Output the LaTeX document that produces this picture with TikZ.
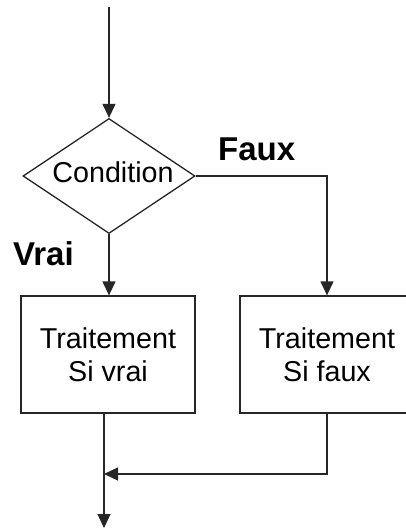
\documentclass[tikz,border=0pt]{standalone}
\usepackage{fontspec}
\setmainfont{Liberation Sans}
\usetikzlibrary{shapes.geometric,arrows.meta}
\begin{document}
\begin{tikzpicture}[x=1pt,y=-1pt,
  line/.style={line width=1.3pt, draw=black!85},
  flow/.style={line, -{Triangle[length=14pt,width=13pt]}},
  box/.style={line, rectangle, minimum width=174pt, minimum height=117pt,
    inner sep=0pt, align=center, font=\fontsize{28.7}{33}\selectfont},
  test/.style={line, diamond, aspect=1.5, minimum width=172pt,
    minimum height=115pt, inner sep=0pt},
  lbl/.style={font=\fontsize{33}{33}\selectfont\bfseries, anchor=base west, inner sep=0pt},
  txt/.style={font=\fontsize{28.7}{28.7}\selectfont, inner sep=0pt}
]
\useasboundingbox (0,0) rectangle (406,528);
% decision and its two branches
\coordinate (start) at (109,7);
\node[test] (cond) at (109,176) {};
\node[txt, anchor=base] (condtxt) at (113,182) {Condition};
\node[box] (vrai) at (108,354.5) {Traitement\\Si vrai};
\node[box] (faux) at (327,354.5) {Traitement\\Si faux};
\node[lbl] (lvrai) at (13,265) {Vrai};
\node[lbl] (lfaux) at (218,160) {Faux};
% merge point and exit
\coordinate (join) at (104,474);
\coordinate (end) at (104,528);
\draw[flow] (start) -- (cond.north);
\draw[flow] (cond.south) -- (cond.south |- vrai.north);
\draw[flow] (cond.east) -| (faux.north);
\draw[flow] (vrai.south -| join) -- (end);
\draw[flow] (faux.south) |- (join);
\end{tikzpicture}
\end{document}
